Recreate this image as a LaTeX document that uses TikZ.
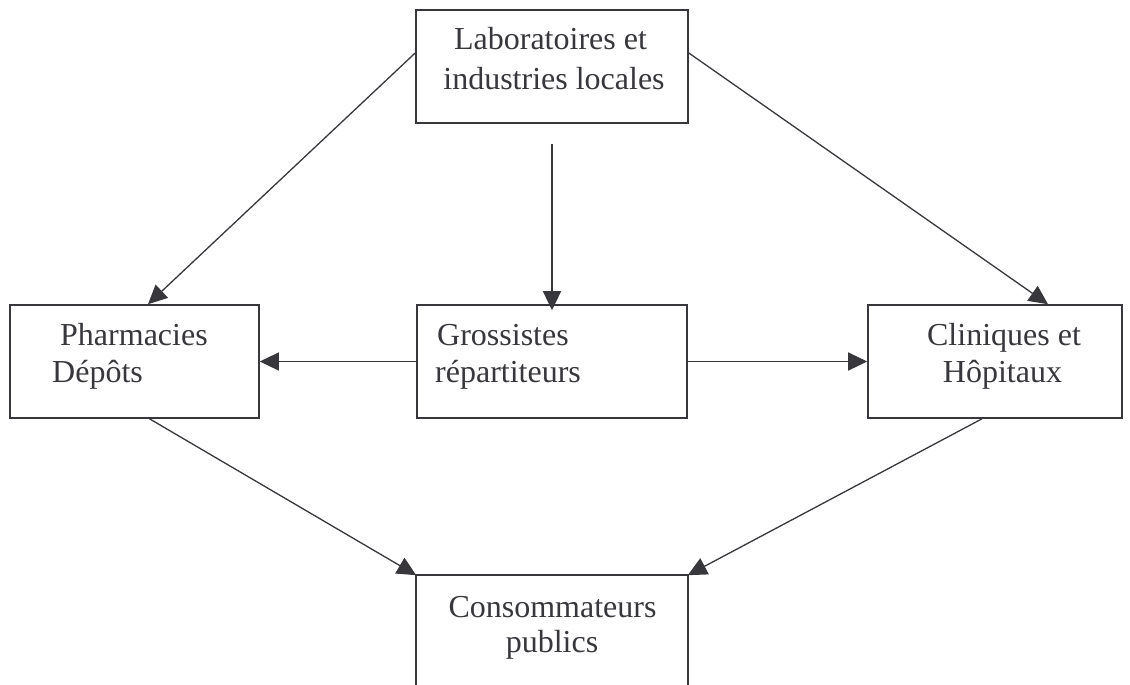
\documentclass[tikz,border=0pt]{standalone}
\usepackage{fontspec}
\setmainfont{Liberation Serif}
\usetikzlibrary{arrows.meta}
\definecolor{ink}{RGB}{55,55,60}
\begin{document}
\begin{tikzpicture}[x=1pt,y=-1pt,
  box/.style={draw=ink, line width=1.6pt, inner sep=0pt, minimum height=113pt},
  txt/.style={inner sep=0pt, text=ink, font=\fontsize{32}{37}\selectfont},
  arr/.style={draw=ink, line width=1.3pt, -{Triangle[length=19pt,width=18pt]}}]
\useasboundingbox (0,0) rectangle (1130,685);
% boxes
\node[box, minimum width=272pt] (lab) at (552,66.5) {};
\node[box, minimum width=249pt] (pharm) at (134.5,361.5) {};
\node[box, minimum width=270pt] (gross) at (552,361.5) {};
\node[box, minimum width=254pt] (clin) at (995,361.5) {};
\node[box, draw=none, minimum width=270pt, minimum height=114pt] (cons) at (552,633) {};
\draw[ink, line width=1.6pt] (cons.south west) -- (cons.north west) -- (cons.north east) -- (cons.south east);
% texts
\node[txt, anchor=base] (lab1) at (550.5,50) {Laboratoires et};
\node[txt, anchor=base] (lab2) at (554,89) {industries locales};
\node[txt, anchor=base west] (ph1) at (60,345) {Pharmacies};
\node[txt, anchor=base west] (ph2) at (52,382) {Dépôts};
\node[txt, anchor=base west] (gr1) at (437,345) {Grossistes};
\node[txt, anchor=base west] (gr2) at (435,382) {répartiteurs};
\node[txt, anchor=base] (cl1) at (1004,345) {Cliniques et};
\node[txt, anchor=base] (cl2) at (1002.5,382) {Hôpitaux};
\node[txt, anchor=base] (co1) at (552.5,617) {Consommateurs};
\node[txt, anchor=base] (co2) at (552,652) {publics};
% connectors
\draw[arr] ([yshift=13.5pt]lab.west) -- ([xshift=13.5pt]pharm.north);
\draw[arr] ([yshift=13.5pt]lab.east) -- ([xshift=53pt]clin.north);
\draw[arr, shorten <=20pt, shorten >=-6pt] (lab.south) -- (gross.north);
\draw[arr] (gross.west) -- (pharm.east);
\draw[arr] (gross.east) -- (clin.west);
\draw[arr] ([xshift=15pt]pharm.south) -- (cons.north west);
\draw[arr] ([xshift=-13pt]clin.south) -- (cons.north east);
\end{tikzpicture}
\end{document}
